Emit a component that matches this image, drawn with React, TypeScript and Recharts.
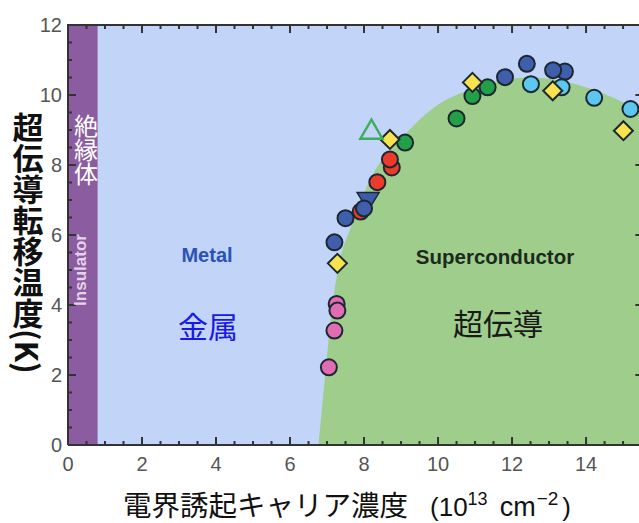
import { Area, CartesianGrid, ComposedChart, Line, ReferenceArea, Scatter, XAxis, YAxis } from 'recharts'

// carrier density (10^13 cm^-2) vs Tc (K)
const dome = [
  { x: 6.77, y: 0 },
  { x: 6.95, y: 2 },
  { x: 7.15, y: 4 },
  { x: 7.35, y: 5.3 },
  { x: 7.6, y: 6.1 },
  { x: 8.25, y: 7.75 },
  { x: 9.0, y: 8.75 },
  { x: 9.9, y: 9.65 },
  { x: 11.0, y: 10.2 },
  { x: 12.5, y: 10.5 },
  { x: 14.2, y: 10.15 },
  { x: 15.55, y: 9.5 },
]

const pinkPts = [
  { x: 7.26, y: 4.03 },
  { x: 7.28, y: 3.84 },
  { x: 7.2, y: 3.27 },
  { x: 7.05, y: 2.22 },
]
const redPts = [
  { x: 8.75, y: 7.93 },
  { x: 8.7, y: 8.16 },
  { x: 8.36, y: 7.51 },
  { x: 7.91, y: 6.67 },
]
const blueTriPts = [{ x: 8.11, y: 7.04 }]
const darkBluePts = [
  { x: 8.0, y: 6.76 },
  { x: 7.5, y: 6.48 },
  { x: 7.2, y: 5.79 },
  { x: 11.81, y: 10.51 },
  { x: 12.4, y: 10.89 },
  { x: 13.43, y: 10.67 },
  { x: 13.11, y: 10.71 },
]
const greenPts = [
  { x: 9.11, y: 8.64 },
  { x: 10.5, y: 9.33 },
  { x: 10.93, y: 9.97 },
  { x: 11.34, y: 10.22 },
]
const lightBluePts = [
  { x: 12.51, y: 10.31 },
  { x: 13.34, y: 10.22 },
  { x: 14.22, y: 9.92 },
  { x: 15.2, y: 9.6 },
]
const yellowPts = [
  { x: 7.28, y: 5.19 },
  { x: 8.7, y: 8.73 },
  { x: 10.93, y: 10.36 },
  { x: 13.1, y: 10.12 },
  { x: 15.01, y: 8.98 },
]
const openTriPts = [{ x: 8.2, y: 8.98 }]

const xTicks = [0, 0.5, 1, 1.5, 2, 2.5, 3, 3.5, 4, 4.5, 5, 5.5, 6, 6.5, 7, 7.5, 8, 8.5, 9, 9.5, 10, 10.5, 11, 11.5, 12, 12.5, 13, 13.5, 14, 14.5, 15, 15.5]
const yTicks = [0, 0.5, 1, 1.5, 2, 2.5, 3, 3.5, 4, 4.5, 5, 5.5, 6, 6.5, 7, 7.5, 8, 8.5, 9, 9.5, 10, 10.5, 11, 11.5, 12]

const X_MIN = 0
const X_MAX = 15.55
const Y_MIN = 0
const Y_MAX = 12

// box around the plot and the inward tick positions on all four sides
const frame = [
  { x: X_MIN, y: Y_MIN },
  { x: X_MAX, y: Y_MIN },
  { x: X_MAX, y: Y_MAX },
  { x: X_MIN, y: Y_MAX },
  { x: X_MIN, y: Y_MIN },
]
const bottomTicks = xTicks.map((v) => ({ x: v, y: Y_MIN }))
const topTicks = xTicks.map((v) => ({ x: v, y: Y_MAX }))
const leftTicks = yTicks.map((v) => ({ x: X_MIN, y: v }))
const rightTicks = yTicks.map((v) => ({ x: X_MAX, y: v }))

const EDGE = '#1d2731'
const AXIS_C = '#333'
const TICK_FONT = { fontFamily: '"Liberation Sans", Arial, sans-serif', fontSize: 20, fill: '#555' }
const JP = '"Noto Sans CJK JP", sans-serif'
const LAT = '"Liberation Sans", Arial, sans-serif'

const isMajor = (v: number) => v % 2 === 0
const tickLen = (v: number) => (isMajor(v) ? 8 : 4)

function BottomLabel({ x, y, payload }: any) {
  const v = payload.value
  if (!isMajor(v)) return <g />
  return (
    <text x={x} y={y + 19} textAnchor="middle" dominantBaseline="central" {...TICK_FONT}>
      {v}
    </text>
  )
}

function LeftLabel({ x, y, payload }: any) {
  const v = payload.value
  if (!isMajor(v)) return <g />
  return (
    <text x={x - 6} y={y} textAnchor="end" dominantBaseline="central" {...TICK_FONT}>
      {v}
    </text>
  )
}

const tickMark = (side: 'b' | 't' | 'l' | 'r') => (p: any) => {
  const v = side === 'b' || side === 't' ? p.payload.x : p.payload.y
  const n = tickLen(v)
  const d =
    side === 'b'
      ? `M${p.cx},${p.cy}V${p.cy - n}`
      : side === 't'
        ? `M${p.cx},${p.cy}V${p.cy + n}`
        : side === 'l'
          ? `M${p.cx},${p.cy}H${p.cx + n}`
          : `M${p.cx},${p.cy}H${p.cx - n}`
  return <path d={d} stroke={AXIS_C} strokeWidth={2} fill="none" />
}

const circle = (fill: string) => (p: any) => (
  <circle cx={p.cx} cy={p.cy} r={8} fill={fill} stroke={EDGE} strokeWidth={2} />
)

const diamond = (p: any) => (
  <path
    d={`M${p.cx},${p.cy - 9.5}L${p.cx + 9.5},${p.cy}L${p.cx},${p.cy + 9.5}L${p.cx - 9.5},${p.cy}Z`}
    fill="#f6e34d"
    stroke={EDGE}
    strokeWidth={2}
  />
)

const downTri = (p: any) => (
  <path
    d={`M${p.cx - 11},${p.cy - 6}L${p.cx + 11},${p.cy - 6}L${p.cx},${p.cy + 12}Z`}
    fill="#3a5cab"
    stroke={EDGE}
    strokeWidth={1.5}
  />
)

const openTri = (p: any) => (
  <path
    d={`M${p.cx},${p.cy - 11}L${p.cx + 11},${p.cy + 8}L${p.cx - 11},${p.cy + 8}Z`}
    fill="none"
    stroke="#3fae5c"
    strokeWidth={2.5}
  />
)

export default function App() {
  return (
    <div style={{ position: 'absolute', left: 0, top: 0, width: 639, height: 523, overflow: 'hidden', background: '#fff' }}>
      <ComposedChart width={650} height={523} data={dome} margin={{ top: 25, right: 6.6, bottom: 77, left: 67 }}>
        <CartesianGrid horizontal={false} vertical={false} fill="#c2d5f8" fillOpacity={1} stroke="none" />
        <XAxis
          type="number"
          dataKey="x"
          domain={[X_MIN, X_MAX]}
          ticks={xTicks}
          interval={0}
          height={1}
          tickSize={0}
          tickMargin={0}
          tickLine={false}
          axisLine={false}
          tick={<BottomLabel />}
        />
        <YAxis
          type="number"
          dataKey="y"
          domain={[Y_MIN, Y_MAX]}
          ticks={yTicks}
          interval={0}
          width={1}
          tickSize={0}
          tickMargin={0}
          tickLine={false}
          axisLine={false}
          tick={<LeftLabel />}
        />
        <ReferenceArea x1={0} x2={0.8} y1={0} y2={12} fill="#8b5c9f" fillOpacity={1} stroke="none" />
        <Area
          type="monotone"
          dataKey="y"
          fill="#9ecd8c"
          fillOpacity={1}
          stroke="none"
          dot={false}
          activeDot={false}
          isAnimationActive={false}
        />
        <Line
          data={frame}
          dataKey="y"
          type="linear"
          stroke={AXIS_C}
          strokeWidth={2}
          dot={false}
          activeDot={false}
          isAnimationActive={false}
        />
        <Scatter data={pinkPts} shape={circle('#e26cb3')} isAnimationActive={false} />
        <Scatter data={redPts} shape={circle('#ec3a2b')} isAnimationActive={false} />
        <Scatter data={blueTriPts} shape={downTri} isAnimationActive={false} />
        <Scatter data={darkBluePts} shape={circle('#3f5fad')} isAnimationActive={false} />
        <Scatter data={greenPts} shape={circle('#21a047')} isAnimationActive={false} />
        <Scatter data={lightBluePts} shape={circle('#5cc7ef')} isAnimationActive={false} />
        <Scatter data={yellowPts} shape={diamond} isAnimationActive={false} />
        <Scatter data={openTriPts} shape={openTri} isAnimationActive={false} />
        <Scatter data={bottomTicks} shape={tickMark('b')} isAnimationActive={false} />
        <Scatter data={topTicks} shape={tickMark('t')} isAnimationActive={false} />
        <Scatter data={leftTicks} shape={tickMark('l')} isAnimationActive={false} />
        <Scatter data={rightTicks} shape={tickMark('r')} isAnimationActive={false} />
      </ComposedChart>
      <svg width={639} height={523} style={{ position: 'absolute', left: 0, top: 0, pointerEvents: 'none' }}>
        <text x={28} y={112} fontFamily={JP} fontSize={31} fontWeight="bold" fill="#111" style={{ writingMode: 'vertical-rl' }}>
          超伝導転移温度(K)
        </text>
        <text x={86} y={114} fontFamily={JP} fontSize={24} fill="#fff" style={{ writingMode: 'vertical-rl' }}>
          絶縁体
        </text>
        <text
          x={80}
          y={270}
          transform="rotate(-90 80 270)"
          textAnchor="middle"
          dominantBaseline="central"
          fontFamily={LAT}
          fontWeight="bold"
          fontSize={17}
          fill="#e4d2ec"
        >
          Insulator
        </text>
        <text x={207} y={255} textAnchor="middle" dominantBaseline="central" fontFamily={LAT} fontWeight="bold" fontSize={20} fill="#2b52b5">
          Metal
        </text>
        <text x={208} y={325} textAnchor="middle" dominantBaseline="central" fontFamily={JP} fontSize={30} fill="#1818e8">
          金属
        </text>
        <text x={495} y={256} textAnchor="middle" dominantBaseline="central" fontFamily={LAT} fontWeight="bold" fontSize={20.5} fill="#1c2a1c">
          Superconductor
        </text>
        <text x={498} y={322} textAnchor="middle" dominantBaseline="central" fontFamily={JP} fontSize={30} fill="#1a1a1a">
          超伝導
        </text>
        <text x={123} y={516} fontFamily={JP} fontSize={28.5} fill="#111">
          電界誘起キャリア濃度
          <tspan dx={22} fontFamily={LAT} fontSize={26}>(10</tspan>
          <tspan fontFamily={LAT} fontSize={18} dy={-11}>13</tspan>
          <tspan fontFamily={LAT} fontSize={27} dy={11} dx={12}>cm</tspan>
          <tspan fontFamily={LAT} fontSize={19} dy={-11} dx={1}>−2</tspan>
          <tspan fontFamily={LAT} fontSize={26} dy={11} dx={4}>)</tspan>
        </text>
      </svg>
    </div>
  )
}
